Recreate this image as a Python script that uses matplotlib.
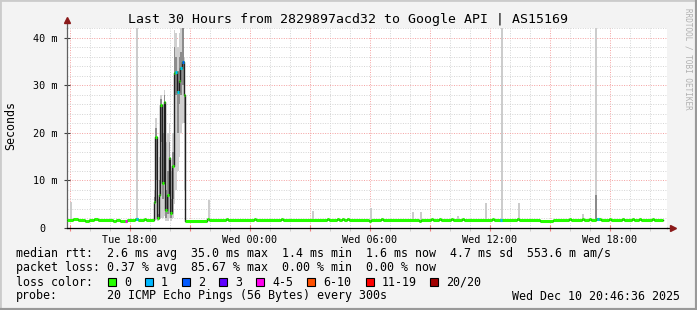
import matplotlib
matplotlib.use("Agg")
import matplotlib.pyplot as plt
from matplotlib.patches import Rectangle
from matplotlib.lines import Line2D
from matplotlib.ticker import FixedLocator, MultipleLocator

W, H = 697, 310
MONO = "DejaVu Sans Mono"

# median rtt (ms), step changes: hour since start of graph -> value
pre_t = [0.00, 0.30, 0.55, 0.90, 1.10, 1.35, 1.55, 2.30, 2.45, 2.65, 3.00, 3.40, 3.55, 3.85, 3.95]
pre_v = [1.6, 1.9, 1.6, 1.4, 1.6, 1.9, 1.6, 1.4, 1.6, 1.5, 1.7, 1.8, 1.7, 1.9, 1.7]

spike_t = [4.33, 4.42, 4.50, 4.58, 4.67, 4.75, 4.83, 4.92, 5.00, 5.08,
           5.17, 5.25, 5.33, 5.42, 5.50, 5.58, 5.67, 5.75, 5.83]
spike_v = [5.5, 19.2, 2.0, 6.9, 25.8, 9.5, 26.5, 3.8, 6.9, 14.6,
           3.1, 13.0, 32.5, 32.8, 28.6, 30.9, 33.5, 34.9, 27.9]
spike_lo = [1.5, 1.6, 1.5, 1.6, 2.0, 2.0, 2.5, 1.5, 1.5, 2.0,
            1.5, 2.0, 5.0, 8.0, 12.0, 15.0, 20.0, 22.0, 8.0]
spike_hi = [8.0, 23.0, 6.0, 15.0, 28.0, 26.0, 29.0, 18.0, 20.0, 22.0,
            12.0, 20.0, 41.5, 41.0, 38.0, 41.0, 42.0, 45.0, 36.0]
spike_in_lo = [3.0, 10.0, 1.8, 4.0, 18.0, 6.0, 15.0, 2.0, 3.0, 8.0,
               2.0, 6.0, 26.0, 28.0, 20.0, 26.0, 28.0, 30.0, 22.0]
spike_in_hi = [6.5, 21.0, 3.0, 10.0, 27.0, 20.0, 28.0, 8.0, 12.0, 18.0,
               6.0, 16.0, 38.0, 36.0, 33.0, 36.0, 37.0, 45.0, 33.0]

post_t = [5.92, 7.00, 7.10, 7.95, 8.05, 9.35, 9.45, 10.70, 10.80, 13.00, 13.10,
          13.50, 13.60, 13.75, 13.85, 14.00, 14.10, 15.10, 15.20, 15.70, 15.80,
          17.60, 17.70, 18.20, 18.30, 18.60, 18.70, 19.20, 19.30, 19.75, 19.85,
          21.25, 21.35, 22.50, 22.60, 23.65, 24.30, 25.10, 25.20, 25.75, 25.85,
          26.10, 26.20, 26.45, 26.70, 27.10, 27.20, 27.75, 27.85, 28.25, 28.35,
          28.60, 28.70, 29.25, 29.35]
post_v = [1.5, 1.9, 1.6, 1.9, 1.6, 1.9, 1.6, 1.9, 1.6, 1.9, 1.6,
          1.9, 1.6, 1.9, 1.6, 1.9, 1.6, 1.4, 1.6, 1.9, 1.6,
          1.4, 1.6, 1.9, 1.6, 1.9, 1.6, 1.9, 1.6, 1.9, 1.6,
          1.9, 1.6, 1.8, 1.6, 1.4, 1.6, 1.9, 1.6, 1.9, 1.6,
          1.9, 1.6, 1.9, 1.6, 1.9, 1.6, 1.9, 1.6, 1.9, 1.6,
          1.9, 1.6, 1.9, 1.6]
t_last = 29.80

# samples with packet loss (hour, median ms, loss color)
loss_t = [2.90, 3.45, 5.42, 5.50, 5.67, 5.75, 21.65, 26.50]
loss_v = [1.5, 1.8, 32.8, 28.6, 33.5, 34.9, 1.6, 1.9]
loss_c = ["#ff00ee", "#00b8ff", "#00b8ff", "#00b8ff", "#00b8ff", "#0059ff", "#00b8ff", "#00b8ff"]

# isolated smoke spikes on the baseline (hour, top ms)
smoke_t = [0.15, 3.45, 7.05, 12.25, 15.15, 17.25, 17.65, 19.50, 20.90, 21.70, 22.55, 25.75, 26.40]
smoke_top = [5.5, 45.0, 5.9, 3.6, 4.2, 3.4, 3.4, 2.6, 5.2, 45.0, 5.2, 2.9, 45.0]
dark_smoke_t = [26.40]
dark_smoke_top = [6.9]

tick_labels = ["Tue 18:00", "Wed 00:00", "Wed 06:00", "Wed 12:00", "Wed 18:00"]
y_ticks = [0, 10, 20, 30, 40]
y_labels = ["0  ", "10 m", "20 m", "30 m", "40 m"]

stats_rtt = "median rtt:  2.6 ms avg  35.0 ms max  1.4 ms min  1.6 ms now  4.7 ms sd  553.6 m am/s"
stats_loss = "packet loss: 0.37 % avg  85.67 % max  0.00 % min  0.00 % now"
legend_names = ["0", "1", "2", "3", "4-5", "6-10", "11-19", "20/20"]
legend_colors = ["#26ff00", "#00b8ff", "#0059ff", "#5e00ff", "#ff00ee", "#ff5000", "#ff0000", "#a00000"]
legend_x = [108, 145, 182, 219, 256, 307, 366, 430]
probe_text = "20 ICMP Echo Pings (56 Bytes) every 300s"
stamp_text = "Wed Dec 10 20:46:36 2025"

step = 1 / 12


def fx(x):
    return x / W


def fy(y):
    return 1 - y / H


fig = plt.figure(figsize=(W / 100, H / 100), dpi=100, facecolor="#f3f3f3")
ax = fig.add_axes([fx(67), fy(228), 600 / W, 200 / H])
ax.set_facecolor("white")
ax.set_xlim(0, 30)
ax.set_ylim(0, 42)

# grid: minor every hour / 2 ms, major every 3 hours / 10 ms
ax.xaxis.set_major_locator(FixedLocator([0.15 + 3 * k for k in range(10)]))
ax.xaxis.set_minor_locator(FixedLocator([0.15 + k for k in range(30)]))
ax.yaxis.set_major_locator(FixedLocator(y_ticks))
ax.yaxis.set_minor_locator(MultipleLocator(2))
ax.grid(which="minor", color="#d4d4d4", linestyle=(0, (1, 1.5)), lw=0.7)
ax.grid(which="major", color="#f4a0a0", linestyle=(0, (1, 1.5)), lw=0.7)
ax.set_axisbelow(True)

# smoke
ax.bar(smoke_t, [t - 1.5 for t in smoke_top], bottom=1.5, width=1.4 * step, align="edge",
       color="#cccccc", linewidth=0, zorder=2)
ax.bar(dark_smoke_t, [t - 1.6 for t in dark_smoke_top], bottom=1.6, width=1.4 * step, align="edge",
       color="#8a8a8a", linewidth=0, zorder=2)
ax.bar(spike_t, [h - l for h, l in zip(spike_hi, spike_lo)], bottom=spike_lo, width=step,
       align="edge", color="#d0d0d0", linewidth=0, zorder=2)
ax.bar(spike_t, [h - l for h, l in zip(spike_in_hi, spike_in_lo)], bottom=spike_in_lo, width=step,
       align="edge", color="#8c8c8c", linewidth=0, zorder=2)

# median line
all_t = pre_t + spike_t + post_t
all_v = pre_v + spike_v + post_v
ax.step(all_t + [t_last], all_v + [all_v[-1]], where="post", color="#202020", lw=1.0, zorder=3)
ends = all_t[1:] + [t_last]
ax.hlines(all_v, all_t, ends, color="#26ff00", lw=2.2, zorder=4)
ax.hlines(loss_v, loss_t, [t + step for t in loss_t], color=loss_c, lw=2.2, zorder=5)

# axes
for s in ["top", "right"]:
    ax.spines[s].set_visible(False)
ax.spines["left"].set_color("#606060")
ax.spines["bottom"].set_color("black")
ax.spines["left"].set_linewidth(0.9)
ax.spines["bottom"].set_linewidth(0.9)
ax.plot([0, 0], [42, 43.5], color="#606060", lw=0.9, clip_on=False)
ax.plot([30, 30.2], [0, 0], color="black", lw=0.9, clip_on=False)
ax.plot([0], [43.6], marker="^", ms=4, color="#8b1a1a", clip_on=False)
ax.plot([30.3], [0], marker=">", ms=4, color="#8b1a1a", clip_on=False)

ax.set_xticklabels(["" if (k % 2 == 0) else tick_labels[k // 2] for k in range(10)])
ax.set_yticks(y_ticks, y_labels)
ax.tick_params(axis="x", which="major", direction="inout", length=4, color="#f08080",
               labelsize=7.3, pad=3)
ax.tick_params(axis="x", which="minor", direction="out", length=2, color="#c8c8c8")
ax.tick_params(axis="y", which="major", direction="inout", length=5, color="#404040",
               labelsize=7.3, pad=4)
ax.tick_params(axis="y", which="minor", length=0)
for lab in ax.get_xticklabels() + ax.get_yticklabels():
    lab.set_family(MONO)

fig.text(fx(11), fy(126), "Seconds", rotation=90, ha="center", va="center",
         family=MONO, fontsize=8.4)
fig.text(0.5, fy(19), "Last 30 Hours from 2829897acd32 to Google API | AS15169",
         ha="center", va="center", family=MONO, fontsize=9.5)
fig.text(fx(688), fy(59), "RRDTOOL / TOBI OETIKER", rotation=270, ha="center", va="center",
         family=MONO, fontsize=5.5, color="#b0b0b0")

# legend block
fs = 8.4
fig.text(fx(16), fy(254), stats_rtt, ha="left", va="center", family=MONO, fontsize=fs)
fig.text(fx(16), fy(268), stats_loss, ha="left", va="center", family=MONO, fontsize=fs)
fig.text(fx(16), fy(282), "loss color:", ha="left", va="center", family=MONO, fontsize=fs)
for name, col, x in zip(legend_names, legend_colors, legend_x):
    fig.add_artist(Rectangle((fx(x), fy(286)), 8 / W, 8 / H, transform=fig.transFigure,
                             facecolor=col, edgecolor="black", lw=0.8))
    fig.text(fx(x + 16), fy(282), name, ha="left", va="center", family=MONO, fontsize=fs)
fig.text(fx(16), fy(296), "probe:", ha="left", va="center", family=MONO, fontsize=fs)
fig.text(fx(107), fy(296), probe_text, ha="left", va="center", family=MONO, fontsize=fs)
fig.text(fx(680), fy(296), stamp_text, ha="right", va="center", family=MONO, fontsize=fs)

# 3d frame
fig.add_artist(Line2D([0, 0], [0, 1], color="#cbcbcb", lw=2, transform=fig.transFigure))
fig.add_artist(Line2D([0, 1], [1, 1], color="#cbcbcb", lw=2, transform=fig.transFigure))
fig.add_artist(Line2D([1, 1], [0, 1], color="#999999", lw=3, transform=fig.transFigure))
fig.add_artist(Line2D([0, 1], [0, 0], color="#999999", lw=3, transform=fig.transFigure))

fig.savefig("out.png", dpi=100, facecolor=fig.get_facecolor())
